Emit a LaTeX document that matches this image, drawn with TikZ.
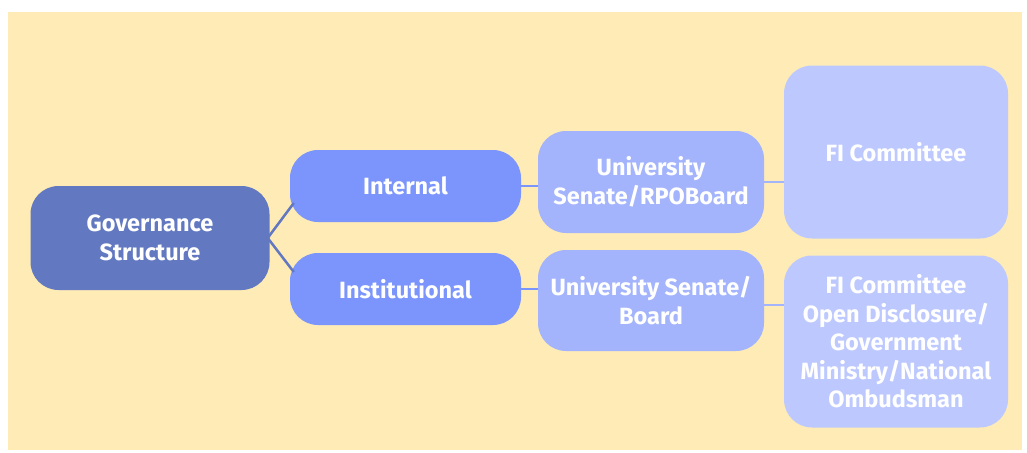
\documentclass[tikz,border=0pt]{standalone}
\usepackage{fontspec}
\setmainfont{Fira Sans}
\usetikzlibrary{calc}
\definecolor{bgyel}{HTML}{FEEBB6}
\definecolor{cgov}{HTML}{6279C1}
\definecolor{cone}{HTML}{7B95FC}
\definecolor{ctwo}{HTML}{A3B4FD}
\definecolor{cthree}{HTML}{BDC9FE}
\tikzset{
  box/.style={rounded corners=28pt, inner sep=0pt, align=center, text=white,
    font=\fontsize{23.5}{28.5}\selectfont\bfseries},
  govbox/.style={box, fill=cgov, minimum width=239pt, minimum height=104pt},
  onebox/.style={box, fill=cone, minimum width=231pt, minimum height=72pt},
  twobox/.style={box, fill=ctwo, minimum width=226pt, minimum height=102pt},
  threebox/.style={box, fill=cthree, minimum width=224pt, minimum height=173pt},
  link/.style={line width=2.5pt},
}
\begin{document}
\begin{tikzpicture}[x=1pt,y=-1pt]
\useasboundingbox (0,0) rectangle (1027,452);
\fill[white] (0,0) rectangle (1027,452);
\fill[bgyel] (8,12) rectangle (1022,450);

\node[govbox] (gov) at (150,238) {Governance\\Structure};
\node[onebox] (internal) at (405.5,186) {Internal};
\node[onebox] (inst) at (405.5,289) {Institutional};
\node[twobox] (usenate) at (651,182) {University\\Senate/RPOBoard};
\node[twobox, minimum height=101pt] (usboard) at (651,300.5) {University Senate/\\Board};
\node[threebox] (fione) at (896,152) {FI Committee};
\node[threebox, minimum height=172pt] (fitwo) at (896,341.5) {FI Committee\\Open Disclosure/\\Government\\Ministry/National\\Ombudsman};

\draw[link, cgov] ($(gov.east)+(-2,0)$) -- ($(internal.west)+(4,17)$);
\draw[link, cgov] ($(gov.east)+(-2,0)$) -- ($(inst.west)+(4,-17)$);
\draw[link, cone] (internal.east) -- (internal.east -| usenate.west);
\draw[link, cone] (inst.east) -- (inst.east -| usboard.west);
\draw[link, ctwo] (usenate.east) -- (usenate.east -| fione.west);
\draw[link, ctwo] ($(usboard.east)+(0,4.5)$) -- ($(usboard.east -| fitwo.west)+(0,4.5)$);
\end{tikzpicture}
\end{document}
